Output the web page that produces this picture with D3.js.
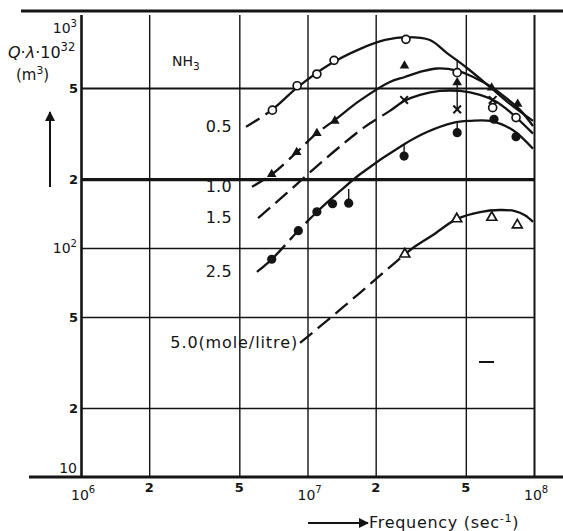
<!DOCTYPE html>
<html>
<head>
<meta charset="utf-8">
<script src="https://cdn.jsdelivr.net/npm/d3@7"></script>
<style>
  body { margin: 0; background: #fff; }
  svg { display: block; font-family: "DejaVu Sans", sans-serif; }
</style>
</head>
<body>
<svg id="chart" width="563" height="531"></svg>
<script>
// axis ticks (frequency in sec^-1, Q·λ·10^32 in m^3)
const freqTicks = [1e6, 2e6, 5e6, 1e7, 2e7, 5e7, 1e8];
const freqLabelBase = ["10", "2", "5", "10", "2", "5", "10"];
const freqLabelSup = ["6", "", "", "7", "", "", "8"];
const qGrid = [20, 50, 100, 200, 500];
const qTicks = [10, 20, 50, 100, 200, 500, 1000];
const qLabelBase = ["10", "2", "5", "10", "2", "5", "10"];
const qLabelSup = ["", "", "", "2", "", "", "3"];

// NH3 concentrations (mole/litre)
const concentrations = ["0.5", "1.0", "1.5", "2.5", "5.0"];

// drawn curves, [frequency, Q]
const curve05 = [[5.35e6, 338], [6.97e6, 401], [9.08e6, 505], [1.26e7, 636], [1.7e7, 739], [2.2e7, 810], [2.75e7, 834], [3.47e7, 810], [4.13e7, 710], [5.06e7, 611], [6.39e7, 505], [7.83e7, 426], [9.9e7, 359]];
const curve10 = [[5.69e6, 185], [6.97e6, 210], [9.0e6, 263], [1.09e7, 315], [1.32e7, 362], [1.7e7, 440], [2.31e7, 531], [2.69e7, 558], [3.2e7, 590], [3.73e7, 608], [4.57e7, 595], [5.49e7, 553], [6.39e7, 510], [7.45e7, 456], [8.67e7, 401], [9.9e7, 341]];
const curve15 = [[6.05e6, 135], [8.12e6, 174], [1.08e7, 224], [1.42e7, 282], [1.79e7, 338], [2.31e7, 397], [2.67e7, 438], [3.14e7, 466], [3.85e7, 485], [4.71e7, 485], [5.78e7, 466], [6.73e7, 438], [7.83e7, 393], [9.9e7, 316]];
const curve25 = [[5.98e6, 78.6], [6.97e6, 89.5], [9.08e6, 118.6], [1.1e7, 143.6], [1.39e7, 177], [1.705e7, 210], [2.64e7, 282], [3.37e7, 321], [4.39e7, 352], [5.22e7, 359], [6.39e7, 359], [8.08e7, 327], [9.9e7, 271]];
const curve50 = [[9.27e6, 38.5], [1.26e7, 49.5], [1.7e7, 63.6], [2.31e7, 82.6], [2.92e7, 100], [3.58e7, 114], [4.57e7, 134], [5.78e7, 143.6], [7.08e7, 146.5], [8.24e7, 145], [9.12e7, 139], [9.9e7, 130]];
// curves are dashed below these frequencies
const dashUntil = [6.97e6, 1.32e7, 2.31e7, 1.1e7, 2.92e7];

// measured points, [frequency, Q]
const points05 = [[7.0e6, 400], [9.0e6, 511], [1.1e7, 575], [1.31e7, 660], [2.72e7, 815], [4.58e7, 583], [6.57e7, 410], [8.33e7, 371]];
const points10 = [[6.95e6, 210], [8.96e6, 262], [1.1e7, 317], [1.32e7, 359], [2.68e7, 625], [4.58e7, 528], [6.5e7, 501], [8.47e7, 425]];
const points15 = [[2.67e7, 443], [4.58e7, 403], [6.57e7, 443]];
const points25 = [[6.95e6, 89.3], [9.11e6, 119], [1.1e7, 144], [1.29e7, 156], [1.52e7, 157], [2.67e7, 252], [4.58e7, 319], [6.66e7, 365], [8.33e7, 306]];
const points50 = [[2.69e7, 94], [4.56e7, 134], [6.51e7, 136], [8.44e7, 126]];
const markers = ["openCircle", "filledTriangle", "times", "filledCircle", "openTriangle"];

// little vertical connectors between points and curves
const dropFreq = [4.58e7, 4.58e7, 2.67e7, 1.52e7, 4.58e7];
const dropTop = [665, 528, 282, 181, 352];
const dropBottom = [583, 403, 252, 157, 319];

const curves = [curve05, curve10, curve15, curve25, curve50];
const points = [points05, points10, points15, points25, points50];
const ink = "#141414";

const svg = d3.select("#chart");
const x = d3.scaleLog().domain([1e6, 1e8]).range([81, 534]);
const y = d3.scaleLog().domain([10, 1000]).range([477, 19]);

// grid
const xGrid = d3.axisBottom(x).tickValues(freqTicks).tickSize(-(y(10) - y(1040))).tickFormat("");
const xGridEl = svg.append("g").attr("transform", `translate(0,${y(10)})`).call(xGrid);
xGridEl.select(".domain").remove();
xGridEl.selectAll(".tick line")
    .attr("stroke", ink)
    .attr("stroke-width", d => d === 1e6 ? 2.6 : d === 1e8 ? 2 : 1.4);

const yGrid = d3.axisLeft(y).tickValues(qGrid).tickSize(-(x(1e8) - x(1e6))).tickFormat("");
const yGridEl = svg.append("g").attr("transform", `translate(${x(1e6)},0)`).call(yGrid);
yGridEl.select(".domain").remove();
yGridEl.selectAll(".tick line")
    .attr("stroke", ink)
    .attr("stroke-width", d => d === 200 ? 3.2 : d === 500 ? 2 : 1.6);

// top rule and bottom axis line
svg.append("line").attr("x1", 21).attr("x2", 563).attr("y1", 11).attr("y2", 11)
    .attr("stroke", ink).attr("stroke-width", 3.2);
svg.append("line").attr("x1", 29).attr("x2", 563).attr("y1", y(10)).attr("y2", y(10))
    .attr("stroke", ink).attr("stroke-width", 3.2);

// tick labels
function supText(sel, base, sup, dy) {
    sel.append("tspan").text(base);
    if (sup) sel.append("tspan").attr("dy", dy).attr("font-size", "0.72em").text(sup);
}

qTicks.forEach((q, i) => {
    const isPow = qLabelBase[i] === "10";
    let ty = y(q) + 5;
    if (q === 1000) ty = y(q) + 14;
    if (q === 10) ty = y(q) - 4;
    const t = svg.append("text")
        .attr("x", isPow ? 77 : 78).attr("y", ty)
        .attr("text-anchor", "end")
        .attr("font-size", isPow ? 14 : 13)
        .attr("font-weight", isPow ? "normal" : "bold")
        .attr("fill", ink);
    supText(t, qLabelBase[i], qLabelSup[i], -6);
});

freqTicks.forEach((f, i) => {
    const isPow = freqLabelBase[i] === "10";
    const t = svg.append("text")
        .attr("x", isPow ? x(f) - 10 : x(f))
        .attr("y", isPow ? y(10) + 23 : y(10) + 15)
        .attr("text-anchor", isPow ? "start" : "middle")
        .attr("font-size", isPow ? 14 : 13)
        .attr("font-weight", isPow ? "normal" : "bold")
        .attr("fill", ink);
    supText(t, freqLabelBase[i], freqLabelSup[i], -7);
});

// drop lines
dropFreq.forEach((f, i) => {
    svg.append("line")
        .attr("x1", x(f)).attr("x2", x(f))
        .attr("y1", y(dropTop[i])).attr("y2", y(dropBottom[i]))
        .attr("stroke", ink).attr("stroke-width", 1.4);
});

// curves: one path each, dashed over the extrapolated part
const line = d3.line()
    .x(d => x(d[0]))
    .y(d => y(d[1]))
    .curve(d3.curveCatmullRom.alpha(0.5));

curves.forEach((c, i) => {
    const dashedPart = c.filter(d => d[0] <= dashUntil[i]);
    const tmp = svg.append("path").attr("d", line(dashedPart));
    const dashLen = dashedPart.length > 1 ? tmp.node().getTotalLength() : 0;
    tmp.remove();

    const path = svg.append("path")
        .attr("d", line(c))
        .attr("fill", "none")
        .attr("stroke", ink)
        .attr("stroke-width", 2.3);
    const total = path.node().getTotalLength();
    const dashes = [];
    let s = 0;
    while (s + 23 < dashLen) { dashes.push(16, 7); s += 23; }
    dashes.push(total, 0);
    path.attr("stroke-dasharray", dashes.join(","));
});

// markers
points.forEach((pts, i) => {
    const type = markers[i];
    const g = svg.append("g");
    pts.forEach(p => {
        const px = x(p[0]), py = y(p[1]);
        if (type === "openCircle") {
            g.append("circle").attr("cx", px).attr("cy", py).attr("r", 4)
                .attr("fill", "#fff").attr("stroke", ink).attr("stroke-width", 1.7);
        } else if (type === "filledCircle") {
            g.append("circle").attr("cx", px).attr("cy", py).attr("r", 4.6)
                .attr("fill", ink);
        } else if (type === "filledTriangle") {
            g.append("path").attr("d", d3.symbol(d3.symbolTriangle, 40)())
                .attr("transform", `translate(${px},${py})`).attr("fill", ink);
        } else if (type === "openTriangle") {
            g.append("path").attr("d", d3.symbol(d3.symbolTriangle, 42)())
                .attr("transform", `translate(${px},${py})`)
                .attr("fill", "#fff").attr("stroke", ink).attr("stroke-width", 1.7);
        } else {
            g.append("path").attr("d", d3.symbol(d3.symbolTimes, 40)())
                .attr("transform", `translate(${px},${py})`)
                .attr("fill", "none").attr("stroke", ink).attr("stroke-width", 2);
        }
    });
});

// series labels
concentrations.forEach((c, i) => {
    const start = curves[i][0];
    const last = i === concentrations.length - 1;
    svg.append("text")
        .attr("x", last ? x(start[0]) - 2 : 232)
        .attr("y", y(start[1]) + 5)
        .attr("text-anchor", "end")
        .attr("font-size", 16)
        .attr("letter-spacing", last ? 0.9 : 0.3)
        .attr("fill", ink)
        .text(last ? c + "(mole/litre)" : c);
});

// axis titles
const qt = svg.append("text").attr("x", 8).attr("y", 58).attr("font-size", 16).attr("fill", ink);
qt.append("tspan").attr("font-style", "italic").text("Q");
qt.append("tspan").text("·");
qt.append("tspan").attr("font-style", "italic").text("λ");
qt.append("tspan").text("·10");
qt.append("tspan").attr("dy", -7).attr("font-size", "0.72em").text("32");
svg.append("text").attr("x", 16).attr("y", 80).attr("font-size", 15).attr("fill", ink)
    .call(t => supText(t, "(m", "3", -6))
    .append("tspan").attr("dy", 6).text(")");

const nh = svg.append("text").attr("x", 172).attr("y", 66).attr("font-size", 14).attr("fill", ink);
nh.append("tspan").text("NH");
nh.append("tspan").attr("dy", 4).attr("font-size", "0.75em").text("3");

// arrows
svg.append("defs").append("marker")
    .attr("id", "head").attr("viewBox", "0 0 10 10")
    .attr("refX", 9).attr("refY", 5)
    .attr("markerWidth", 5).attr("markerHeight", 5)
    .attr("orient", "auto")
    .append("path").attr("d", "M0,0L10,5L0,10z").attr("fill", ink);

svg.append("line").attr("x1", 50).attr("x2", 50).attr("y1", 187).attr("y2", 112)
    .attr("stroke", ink).attr("stroke-width", 2).attr("marker-end", "url(#head)");
svg.append("line").attr("x1", 308).attr("x2", 368).attr("y1", 523).attr("y2", 523)
    .attr("stroke", ink).attr("stroke-width", 2).attr("marker-end", "url(#head)");

const ft = svg.append("text").attr("x", 369).attr("y", 528).attr("font-size", 16)
    .attr("letter-spacing", 0.7).attr("fill", ink);
ft.append("tspan").text("Frequency (sec");
ft.append("tspan").attr("dy", -6).attr("font-size", "0.7em").text("-1");
ft.append("tspan").attr("dy", 6).text(")");

// small stray mark in the lower right of the plot
svg.append("line").attr("x1", 494).attr("x2", 479).attr("y1", 362).attr("y2", 362)
    .attr("stroke", ink).attr("stroke-width", 2);
</script>
</body>
</html>
